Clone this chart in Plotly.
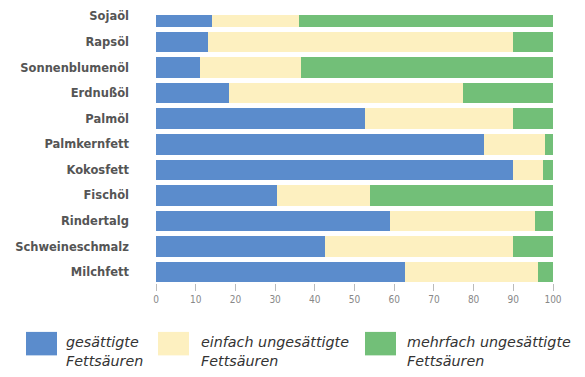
import plotly.graph_objects as go

categories = ["Milchfett", "Schweineschmalz", "Rindertalg", "Fischöl", "Kokosfett",
              "Palmkernfett", "Palmöl", "Erdnußöl", "Sonnenblumenöl", "Rapsöl", "Sojaöl"]
gesaettigt = [62.6, 42.5, 59, 30.5, 90, 82.5, 52.6, 18.3, 11, 13, 14]
einfach = [33.6, 47.5, 36.5, 23.5, 7.4, 15.5, 37.4, 59, 25.5, 77, 22]
mehrfach = [3.8, 10, 4.5, 46, 2.6, 2, 10, 22.7, 63.5, 10, 64]
series_names = ["gesättigte<br>Fettsäuren", "einfach ungesättigte<br>Fettsäuren",
                "mehrfach ungesättigte<br>Fettsäuren"]
tick_vals = [0, 10, 20, 30, 40, 50, 60, 70, 80, 90, 100]

colors = ["#5b8ccc", "#fdf0c0", "#72bf78"]

fig = go.Figure()
for vals, name, col in zip([gesaettigt, einfach, mehrfach], series_names, colors):
    fig.add_trace(go.Bar(
        y=categories, x=vals, orientation="h", name=name,
        marker=dict(color=col, line=dict(width=0)), width=0.8,
        showlegend=False,
    ))

fig.update_layout(
    barmode="stack",
    width=585, height=377,
    margin=dict(l=156, r=32, t=9, b=94),
    paper_bgcolor="white", plot_bgcolor="white",
    bargap=0.2,
)
fig.update_xaxes(
    range=[0, 100], tickvals=tick_vals, showgrid=False, zeroline=False,
    showline=False, ticks="outside", ticklen=7, tickcolor="#bbbbbb", tickwidth=1,
    tickfont=dict(family="DejaVu Sans Condensed", size=10, color="#888888"),
)
fig.update_yaxes(
    categoryorder="array", categoryarray=categories,
    range=[-0.42, 10.05], showgrid=False, zeroline=False, showline=False,
    ticks="", ticklabelstandoff=26,
    tickfont=dict(family="DejaVu Sans", size=11.5, color="#555555", weight="bold"),
)

# Legend drawn as swatches + labels in paper coordinates
pw = 585 - 156 - 32
ph = 377 - 9 - 94
def px2x(px):
    return (px - 156) / pw
def py2y(py):
    return (377 - 94 - py) / ph

legend_pos = [(26, 64), (158, 199), (365, 405)]
for (sx, tx), name, col in zip(legend_pos, series_names, colors):
    fig.add_shape(type="rect", xref="paper", yref="paper",
                  x0=px2x(sx), x1=px2x(sx + 31), y0=py2y(357), y1=py2y(333),
                  fillcolor=col, line=dict(width=0))
    fig.add_annotation(xref="paper", yref="paper", x=px2x(tx), y=py2y(353),
                       xanchor="left", yanchor="middle", align="left",
                       text="<i>" + name + "</i>", showarrow=False,
                       font=dict(family="DejaVu Sans", size=14.3, color="#333333"))

fig.write_html("out.html")
